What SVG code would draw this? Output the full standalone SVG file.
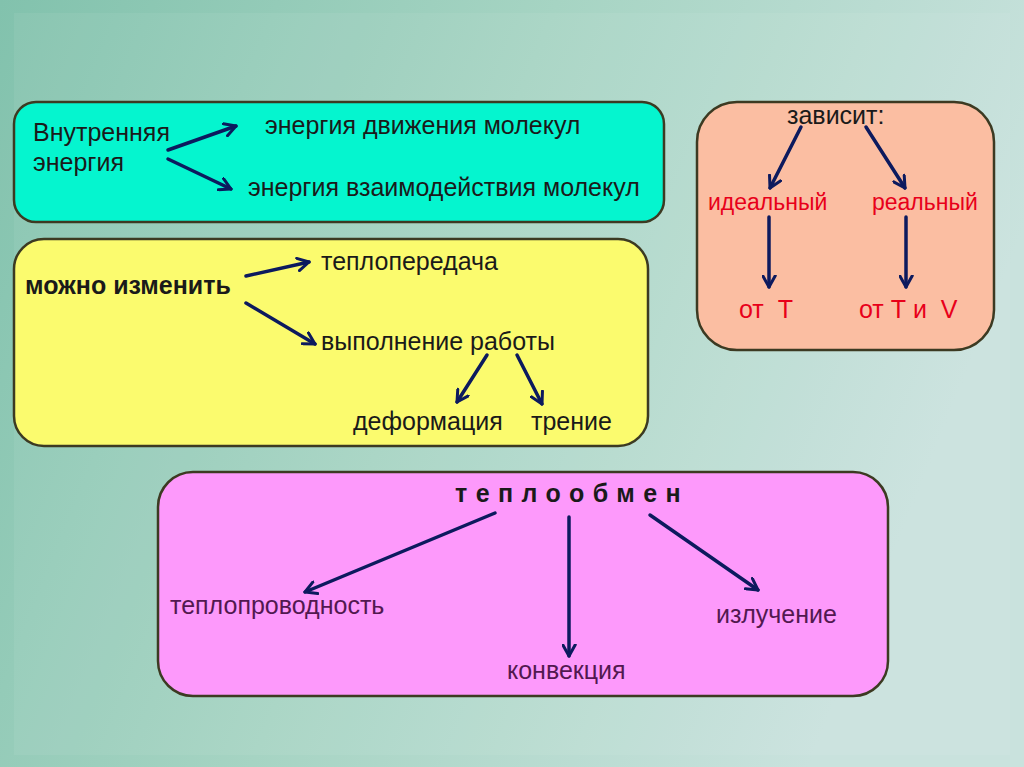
<svg xmlns="http://www.w3.org/2000/svg" width="1024" height="767" viewBox="0 0 1024 767">
<defs>
<linearGradient id="bg" x1="0" y1="0" x2="1" y2="0.3">
<stop offset="0" stop-color="#82c2ad"/>
<stop offset="0.5" stop-color="#a6d4c3"/>
<stop offset="1" stop-color="#c9e2dd"/>
</linearGradient>
<marker id="ah" viewBox="0 0 12 12" refX="10" refY="6" markerWidth="15" markerHeight="15" orient="auto" markerUnits="userSpaceOnUse">
<path d="M1,1 L10,6 L1,11" fill="none" stroke="#0c1a5e" stroke-width="2.4" stroke-linecap="round" stroke-linejoin="round"/>
</marker>
<style>
.box{stroke:#3c3a22;stroke-width:2.5}
.t{font-family:"Liberation Sans",Arial,sans-serif;font-size:25px;fill:#1a1a1a}
.red{fill:#e8001a;font-size:23px}
.red2{fill:#e8001a;font-size:25px}
.pur{fill:#521850}
.arr{stroke:#0c1a5e;stroke-width:3.5;fill:none;stroke-linecap:round;marker-end:url(#ah)}
</style>
</defs>
<rect width="1024" height="767" fill="url(#bg)"/>
<rect x="14" y="13" width="996" height="742" fill="#ffffff" opacity="0.06"/>

<g id="node-internal">
<rect class="box" x="14" y="102" width="650" height="120" rx="22" fill="#05f5cf"/>
<text class="t" x="33" y="141">Внутренняя</text>
<text class="t" x="33" y="171">энергия</text>
</g>
<g id="node-motion"><text class="t" x="265" y="134">энергия движения молекул</text></g>
<g id="node-interaction"><text class="t" x="248" y="196">энергия взаимодействия молекул</text></g>

<g id="node-depends">
<rect class="box" x="697" y="102" width="297" height="248" rx="40" fill="#fbbea2"/>
<text class="t" x="787" y="124">зависит:</text>
</g>
<g id="node-ideal"><text class="t red" x="708" y="210">идеальный</text></g>
<g id="node-real"><text class="t red" x="872" y="210">реальный</text></g>
<g id="node-fromT"><text class="t red2" x="739" y="318" xml:space="preserve">от  Т</text></g>
<g id="node-fromTV"><text class="t red2" x="859" y="318" xml:space="preserve">от Т и  V</text></g>

<g id="node-change">
<rect class="box" x="14" y="239" width="634" height="207" rx="30" fill="#fbfb6e"/>
<text class="t" x="25" y="294" font-weight="bold">можно изменить</text>
</g>
<g id="node-heattransfer"><text class="t" x="321" y="270">теплопередача</text></g>
<g id="node-work"><text class="t" x="321" y="350">выполнение работы</text></g>
<g id="node-deform"><text class="t" x="353" y="430">деформация</text></g>
<g id="node-friction"><text class="t" x="531" y="430">трение</text></g>

<g id="node-exchange">
<rect class="box" x="158" y="472" width="730" height="224" rx="35" fill="#fd99fb"/>
<text class="t" x="572" y="502" text-anchor="middle" font-weight="bold" font-size="21" letter-spacing="8.4" fill="#660060">теплообмен</text>
</g>
<g id="node-conduction"><text class="t pur" x="170" y="614">теплопроводность</text></g>
<g id="node-radiation"><text class="t pur" x="716" y="623">излучение</text></g>
<g id="node-convection"><text class="t pur" x="507" y="679">конвекция</text></g>

<g id="connectors">
<line class="arr" x1="168" y1="150" x2="236" y2="126"/>
<line class="arr" x1="168" y1="159" x2="231" y2="189"/>
<line class="arr" x1="801" y1="127" x2="770" y2="188"/>
<line class="arr" x1="866" y1="127" x2="905" y2="188"/>
<line class="arr" x1="769" y1="217" x2="769" y2="287"/>
<line class="arr" x1="906" y1="217" x2="906" y2="287"/>
<line class="arr" x1="246" y1="276" x2="309" y2="262"/>
<line class="arr" x1="246" y1="303" x2="315" y2="344"/>
<line class="arr" x1="487" y1="355" x2="457" y2="402"/>
<line class="arr" x1="517" y1="355" x2="542" y2="404"/>
<line class="arr" x1="495" y1="513" x2="305" y2="592"/>
<line class="arr" x1="569" y1="517" x2="569" y2="656"/>
<line class="arr" x1="650" y1="515" x2="758" y2="590"/>
</g>
</svg>
